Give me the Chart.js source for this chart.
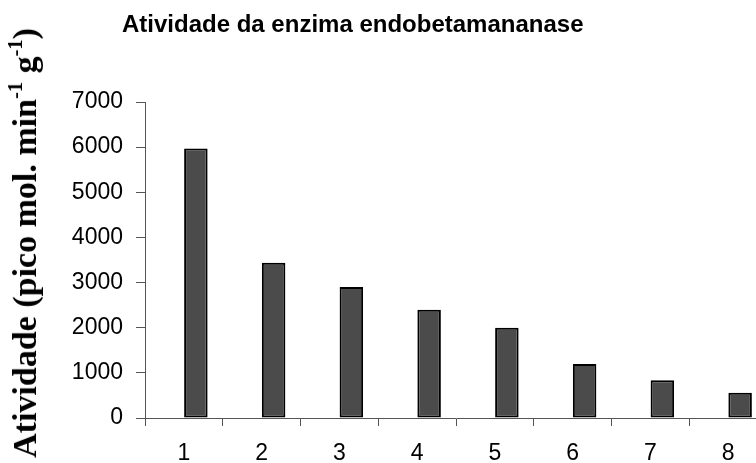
<!DOCTYPE html>
<html>
<head>
<meta charset="utf-8">
<script src="https://cdn.jsdelivr.net/npm/chart.js@4"></script>
<style>
  html, body { margin: 0; padding: 0; background: #fff; overflow: hidden; }
  #wrap { position: relative; width: 756px; height: 463px; overflow: hidden; }
  #chart { position: absolute; left: 0; top: 0; }
  #title {
    position: absolute; left: 122px; top: 12px;
    font: bold 24px "Liberation Sans", Arial, sans-serif; line-height: 24px;
    white-space: nowrap; color: #000;
  }
  #ylabel {
    position: absolute; left: 25px; top: 243px;
    transform: translate(-50%, -50%) rotate(-90deg);
    font: bold 34px "Liberation Serif", "Times New Roman", serif; line-height: 34px;
    white-space: nowrap; color: #000;
  }
  #ylabel sup { font-size: 0.6em; line-height: 0; vertical-align: 0.7em; }
</style>
</head>
<body>
<div id="wrap">
  <canvas id="chart" width="780" height="463"></canvas>
  <div id="title">Atividade da enzima endobetamananase</div>
  <div id="ylabel">Atividade (pico mol. min<sup>-1</sup> g<sup>-1</sup>)</div>
</div>
<script>
const categories = ["1", "2", "3", "4", "5", "6", "7", "8"];
const activity = [5970, 3440, 2900, 2400, 2000, 1195, 835, 560];
const yTicks = [0, 1000, 2000, 3000, 4000, 5000, 6000, 7000];

// empty slot so the bars sit right of the category centre, like the original
const spacer = categories.map(() => null);

const axisColor = "#555";
const tickFont = { family: "'Liberation Sans', Arial, sans-serif", size: 23 };

new Chart(document.getElementById("chart").getContext("2d"), {
  type: "bar",
  data: {
    labels: categories,
    datasets: [
      { label: "", data: spacer, categoryPercentage: 0.617, barPercentage: 0.98 },
      {
        label: "Atividade",
        data: activity,
        backgroundColor: "#4b4b4b",
        borderColor: "#000",
        borderWidth: 2,
        borderSkipped: false,
        categoryPercentage: 0.617,
        barPercentage: 0.98
      }
    ]
  },
  options: {
    responsive: false,
    animation: false,
    layout: { padding: { left: 0, right: 13, top: 102, bottom: 0 } },
    plugins: {
      legend: { display: false },
      tooltip: { enabled: false },
      title: { display: false }
    },
    scales: {
      x: {
        grid: { offset: true, drawOnChartArea: false, drawTicks: true, tickLength: 8, color: axisColor },
        border: { color: axisColor, width: 1 },
        ticks: { color: "#000", font: tickFont, padding: 14, maxRotation: 0 },
        afterFit: (scale) => { scale.height = 45; }
      },
      y: {
        min: yTicks[0],
        max: yTicks[yTicks.length - 1],
        afterBuildTicks: (scale) => { scale.ticks = yTicks.map((v) => ({ value: v })); },
        grid: { drawOnChartArea: false, drawTicks: true, tickLength: 9, color: axisColor },
        border: { color: axisColor, width: 1 },
        ticks: { color: "#000", font: tickFont, padding: 13, callback: (v) => String(v) },
        afterFit: (scale) => { scale.width = 145; }
      }
    }
  }
});
</script>
</body>
</html>
